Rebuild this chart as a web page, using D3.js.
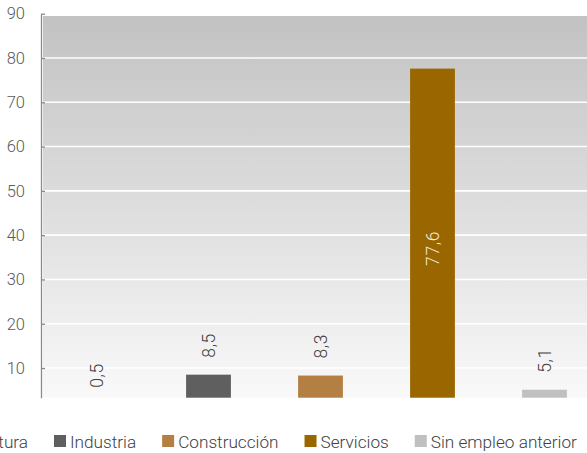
<!DOCTYPE html>
<html><head><meta charset="utf-8">
<script src="https://cdn.jsdelivr.net/npm/d3@7"></script>
<style>
html,body{margin:0;padding:0;background:#fff;}
svg{display:block;font-family:Roboto,"Liberation Sans",sans-serif;font-weight:300;}
</style></head>
<body><svg id="c" width="587" height="453"></svg>
<script>
const categories = ["Agricultura","Industria","Construcción","Servicios","Sin empleo anterior"];
const values = [0.5, 8.5, 8.3, 77.6, 5.1];
const colors = ["#d8a84e","#5f5f5f","#b47f42","#996600","#c0c0c0"];
const valueLabels = ["0,5","8,5","8,3","77,6","5,1"];
const yTicks = [10,20,30,40,50,60,70,80,90];
const yMin = 3.3, yMax = 90;

const svg = d3.select("#c");
const x = d3.scaleBand().domain(categories).range([40.5, 600.5]).paddingInner(0.6).paddingOuter(0.3);
const y = d3.scaleLinear().domain([yMin, yMax]).range([397.7, 13.7]);

const defs = svg.append("defs");
const g = defs.append("linearGradient").attr("id","bg").attr("x1",0).attr("y1",0).attr("x2",0).attr("y2",1);
g.append("stop").attr("offset","0%").attr("stop-color","#c2c2c2");
g.append("stop").attr("offset","100%").attr("stop-color","#f9f9f9");

const bgTop = y(yMax) + 2.3;
svg.append("rect").attr("x",43).attr("y",bgTop).attr("width",600).attr("height",y(yMin)-bgTop).attr("fill","url(#bg)");

// gridlines
svg.append("g").selectAll("line").data(yTicks.slice(0,-1)).join("line")
  .attr("x1",43).attr("x2",600).attr("y1",d=>y(d)).attr("y2",d=>y(d))
  .attr("stroke","#ffffff").attr("stroke-width",1.6);

// axis
const ax = svg.append("g").attr("transform","translate(41,0)")
  .call(d3.axisLeft(y).tickValues(yTicks).tickSizeInner(-4).tickSizeOuter(0).tickPadding(16).tickFormat(d3.format("d")));
ax.select(".domain").attr("stroke","#8a8a8a").attr("stroke-width",1.3);
ax.selectAll(".tick line").attr("stroke","#8a8a8a").attr("stroke-width",1.3);
ax.selectAll(".tick text").attr("fill","#595959").style("font-size","16.5px").style("font-family","Roboto,'Liberation Sans',sans-serif").style("font-weight",300);

// bars
const data = categories.map((c,i)=>({c, v:values[i], col:colors[i], lab:valueLabels[i]}));
svg.append("g").selectAll("rect").data(data.filter(d=>d.v>yMin)).join("rect")
  .attr("x",d=>x(d.c)).attr("width",x.bandwidth())
  .attr("y",d=>y(d.v)).attr("height",d=>y(yMin)-y(d.v)).attr("fill",d=>d.col);

// labels
svg.append("g").selectAll("text").data(data).join("text")
  .attr("transform",d=>{
    const cx = x(d.c)+x.bandwidth()/2;
    let cy;
    if (d.v > 50) cy = (y(d.v)+y(0))/2 + 8;
    else if (d.v < yMin) cy = y(yMin) - 10;
    else cy = y(d.v) - 17;
    return `translate(${cx},${cy}) rotate(-90)`;
  })
  .attr("text-anchor",d=>d.v>50?"middle":"start")
  .attr("dy","0.35em")
  .attr("fill",d=>d.v>50?"#f4ecdc":"#404040")
  .style("font-size","17.5px")
  .style("letter-spacing","0.6px")
  .text(d=>d.lab);

// legend (flow layout)
const leg = svg.append("g");
const items = leg.selectAll("g").data(data).join("g");
items.append("rect").attr("width",12).attr("height",12).attr("y",435).attr("fill",d=>d.col);
items.append("text").attr("x",16).attr("y",447.5).attr("fill","#404040")
  .style("font-size","17.2px").text(d=>d.c);
const widths = [];
items.each(function(){ widths.push(16 + this.querySelector("text").getComputedTextLength()); });
const gap = 26;
const pos = [];
pos[1] = 54;
pos[0] = pos[1] - gap - widths[0];
for (let i=2;i<data.length;i++) pos[i] = pos[i-1] + widths[i-1] + gap;
items.attr("transform",(d,i)=>`translate(${pos[i]},0)`);
</script></body></html>
